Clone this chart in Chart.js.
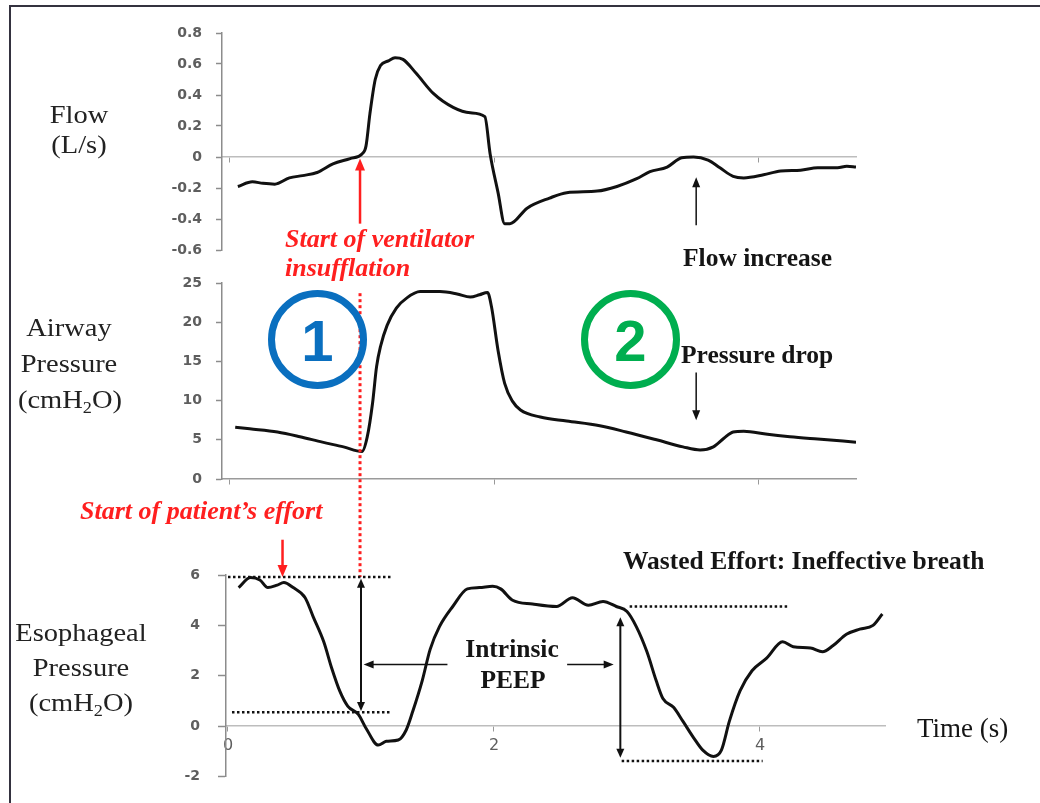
<!DOCTYPE html>
<html>
<head>
<meta charset="utf-8">
<script src="https://cdn.jsdelivr.net/npm/chart.js@4.4.1/dist/chart.umd.min.js"></script>
<style>
  body { margin: 0; background: #fff; width: 1040px; height: 803px; overflow: hidden; position: relative; font-family: "Liberation Serif", "Times New Roman", serif; }
  canvas { position: absolute; left: 0; top: 0; }
  .frame { position: absolute; left: 9px; top: 5px; width: 1100px; height: 900px; border-top: 2px solid #34323f; border-left: 2px solid #34323f; }
  .t { position: absolute; white-space: nowrap; line-height: 1; color: #151515; }
  .b { font-weight: bold; font-size: 25.5px; }
  .red { color: #ff1f1f; font-style: italic; font-weight: bold; font-size: 26px; }
  .ax { font-size: 25px; width: 160px; text-align: center; color: #222; transform: scaleX(1.14); }
  .ax sub { font-size: 16px; vertical-align: -5px; line-height: 0; }
  .circ { position: absolute; width: 99px; height: 99px; box-sizing: border-box; border: 7px solid; border-radius: 50%; text-align: center; font: bold 58px "Liberation Sans", Arial, sans-serif; line-height: 88px; }
</style>
</head>
<body>
<div class="frame"></div>
<canvas id="flow-chart" width="1040" height="803"></canvas>
<canvas id="airway-chart" width="1040" height="803"></canvas>
<canvas id="eso-chart" width="1040" height="803"></canvas>

<!-- axis titles -->
<div class="t ax" style="left:-1px; top:102px;">Flow</div>
<div class="t ax" style="left:-1px; top:132px;">(L/s)</div>
<div class="t ax" style="left:-11px; top:315px;">Airway</div>
<div class="t ax" style="left:-11px; top:351px;">Pressure</div>
<div class="t ax" style="left:-10px; top:387px;">(cmH<sub>2</sub>O)</div>
<div class="t ax" style="left:1px; top:620px;">Esophageal</div>
<div class="t ax" style="left:1px; top:655px;">Pressure</div>
<div class="t ax" style="left:1px; top:690px;">(cmH<sub>2</sub>O)</div>
<div class="t" style="left:917px; top:715px; font-size:27px;">Time (s)</div>

<!-- annotations -->
<div class="t red" style="left:285px; top:226px;">Start of ventilator</div>
<div class="t red" style="left:285px; top:255px;">insufflation</div>
<div class="t red" style="left:80px; top:498px;">Start of patient’s effort</div>
<div class="t b" style="left:683px; top:245px;">Flow increase</div>
<div class="t b" style="left:681px; top:342px;">Pressure drop</div>
<div class="t b" style="left:623px; top:548px;">Wasted Effort: Ineffective breath</div>
<div class="t b" style="left:412px; top:636px; width:200px; text-align:center;">Intrinsic</div>
<div class="t b" style="left:413px; top:667px; width:200px; text-align:center;">PEEP</div>
<div class="circ" style="left:268px; top:290px; border-color:#0a6fbf; color:#0a6fbf;">1</div>
<div class="circ" style="left:581px; top:290px; border-color:#00ae4f; color:#00ae4f;">2</div>

<script>
// traces (time in s)
let flowTime = [0.06, 0.17, 0.25, 0.34, 0.45, 0.55, 0.66, 0.78, 0.91, 1.00, 1.03, 1.06, 1.10, 1.14, 1.20, 1.25, 1.31, 1.41, 1.54, 1.69, 1.82, 1.93, 1.97, 2.03, 2.08, 2.12, 2.25, 2.42, 2.55, 2.78, 2.93, 3.08, 3.18, 3.31, 3.42, 3.51, 3.62, 3.71, 3.81, 3.89, 4.04, 4.17, 4.32, 4.45, 4.60, 4.67, 4.74];
let flowValues = [-0.19, -0.16, -0.17, -0.175, -0.135, -0.12, -0.10, -0.045, -0.01, 0.02, 0.07, 0.28, 0.50, 0.59, 0.62, 0.64, 0.63, 0.54, 0.41, 0.32, 0.285, 0.26, 0.02, -0.23, -0.43, -0.43, -0.33, -0.265, -0.23, -0.22, -0.19, -0.14, -0.095, -0.065, -0.005, 0.0, -0.02, -0.07, -0.125, -0.135, -0.115, -0.09, -0.085, -0.07, -0.07, -0.06, -0.065];

let airwayTime = [0.04, 0.15, 0.36, 0.53, 0.70, 0.86, 1.00, 1.04, 1.08, 1.11, 1.14, 1.19, 1.26, 1.34, 1.44, 1.59, 1.72, 1.82, 1.89, 1.95, 1.98, 2.03, 2.08, 2.14, 2.20, 2.35, 2.55, 2.80, 3.00, 3.23, 3.43, 3.56, 3.66, 3.74, 3.81, 3.89, 4.07, 4.24, 4.45, 4.74];
let airwayValues = [6.6, 6.4, 6.0, 5.4, 4.7, 4.1, 3.5, 5.4, 9.7, 14.3, 16.9, 19.6, 21.8, 23.1, 23.9, 23.9, 23.6, 23.2, 23.5, 23.8, 22.0, 16.4, 12.2, 9.9, 8.8, 7.9, 7.4, 6.8, 6.0, 5.0, 4.1, 3.7, 4.1, 5.2, 6.0, 6.1, 5.7, 5.4, 5.1, 4.7];

let esoTime = [0.08, 0.17, 0.24, 0.30, 0.37, 0.42, 0.49, 0.58, 0.64, 0.72, 0.78, 0.84, 0.90, 0.98, 1.04, 1.13, 1.19, 1.28, 1.34, 1.39, 1.46, 1.52, 1.59, 1.69, 1.80, 1.89, 1.99, 2.05, 2.14, 2.29, 2.47, 2.59, 2.71, 2.82, 2.92, 3.00, 3.07, 3.15, 3.22, 3.27, 3.35, 3.42, 3.50, 3.57, 3.65, 3.71, 3.77, 3.85, 3.94, 4.05, 4.17, 4.25, 4.38, 4.47, 4.55, 4.65, 4.75, 4.85, 4.92];
let esoValues = [5.5, 5.9, 5.8, 5.5, 5.6, 5.7, 5.5, 5.1, 4.35, 3.35, 2.3, 1.4, 0.8, 0.47, -0.1, -0.75, -0.6, -0.55, -0.15, 0.6, 1.8, 3.05, 3.95, 4.75, 5.45, 5.5, 5.55, 5.45, 5.0, 4.85, 4.75, 5.1, 4.8, 4.95, 4.75, 4.55, 3.95, 2.95, 1.8, 1.1, 0.75, 0.2, -0.45, -0.95, -1.2, -0.95, 0.2, 1.4, 2.2, 2.7, 3.35, 3.15, 3.1, 2.95, 3.2, 3.65, 3.85, 4.0, 4.45];

// tick labels
let flowTicks = [0.8, 0.6, 0.4, 0.2, 0, -0.2, -0.4, -0.6];
let airwayTicks = [25, 20, 15, 10, 5, 0];
let esoTicks = [6, 4, 2, 0, -2];
let timeTicks = [0, 2, 4];

const AXIS_W = 60;
let tickFont = { family: "DejaVu Sans", size: 14, weight: "bold" };

function points(xs, ys) {
  return xs.map(function (x, i) { return { x: x, y: ys[i] }; });
}

function yAxis(list, tickLen, pad) {
  return {
    min: Math.min.apply(null, list),
    max: Math.max.apply(null, list),
    afterFit: function (s) { s.width = AXIS_W; },
    afterBuildTicks: function (s) { s.ticks = list.map(function (v) { return { value: v }; }); },
    border: { color: "#8c8c8c", width: 1.5 },
    grid: { drawOnChartArea: false, tickLength: tickLen, tickColor: "#8c8c8c", tickWidth: 1.5 },
    ticks: { color: "#5e5e5e", font: tickFont, padding: pad, callback: function (v) { return String(v); } },
  };
}

function xAxis(min, max, lineColor, showLabels) {
  return {
    type: "linear",
    min: min,
    max: max,
    position: { y: 0 },
    afterBuildTicks: function (s) { s.ticks = timeTicks.map(function (v) { return { value: v }; }); },
    border: { color: lineColor, width: 1.5 },
    grid: { drawOnChartArea: false, tickLength: 5, tickColor: "#999" },
    ticks: { display: showLabels, color: "#5e5e5e", font: { family: "DejaVu Sans", size: 16 }, padding: 5, maxRotation: 0, callback: function (v) { return String(v); } },
  };
}

function trace(label, xs, ys) {
  return {
    label: label,
    data: points(xs, ys),
    borderColor: "#111",
    borderWidth: 3,
    pointRadius: 0,
    fill: false,
    cubicInterpolationMode: "monotone",
  };
}

function baseOptions(padding, xScale, yScale) {
  return {
    responsive: false,
    animation: false,
    devicePixelRatio: 1,
    layout: { padding: padding },
    plugins: { legend: { display: false }, tooltip: { enabled: false } },
    scales: { x: xScale, y: yScale },
  };
}

let flowChart = new Chart(document.getElementById("flow-chart"), {
  type: "line",
  data: { datasets: [trace("Flow (L/s)", flowTime, flowValues)] },
  options: baseOptions({ left: 222 - AXIS_W, top: 33, right: 1040 - 856, bottom: 803 - 250 },
    xAxis(-0.06, 4.74, "#bdbdbd", false), yAxis(flowTicks, 6, 14)),
});

let airwayChart = new Chart(document.getElementById("airway-chart"), {
  type: "line",
  data: { datasets: [trace("Airway Pressure (cmH2O)", airwayTime, airwayValues)] },
  options: baseOptions({ left: 222 - AXIS_W, top: 283, right: 1040 - 856, bottom: 803 - 479 },
    xAxis(-0.06, 4.74, "#9a9a9a", false), yAxis(airwayTicks, 6, 14)),
});

// drawing helpers for the annotation layer
function px(c, x) { return c.scales.x.getPixelForValue(x); }
function py(c, y) { return c.scales.y.getPixelForValue(y); }

function arrowHead(ctx, x1, y1, x2, y2, len, half) {
  let a = Math.atan2(y2 - y1, x2 - x1);
  ctx.beginPath();
  ctx.moveTo(x2, y2);
  ctx.lineTo(x2 - len * Math.cos(a) + half * Math.sin(a), y2 - len * Math.sin(a) - half * Math.cos(a));
  ctx.lineTo(x2 - len * Math.cos(a) - half * Math.sin(a), y2 - len * Math.sin(a) + half * Math.cos(a));
  ctx.closePath();
  ctx.fill();
}

function arrow(ctx, x1, y1, x2, y2, color, w, len, half, both) {
  let a = Math.atan2(y2 - y1, x2 - x1);
  ctx.save();
  ctx.strokeStyle = color;
  ctx.fillStyle = color;
  ctx.lineWidth = w;
  ctx.beginPath();
  ctx.moveTo(both ? x1 + (len - 1) * Math.cos(a) : x1, both ? y1 + (len - 1) * Math.sin(a) : y1);
  ctx.lineTo(x2 - (len - 1) * Math.cos(a), y2 - (len - 1) * Math.sin(a));
  ctx.stroke();
  arrowHead(ctx, x1, y1, x2, y2, len, half);
  if (both) arrowHead(ctx, x2, y2, x1, y1, len, half);
  ctx.restore();
}

function dotted(ctx, x1, y1, x2, y2, color, w, dash) {
  ctx.save();
  ctx.strokeStyle = color;
  ctx.lineWidth = w;
  ctx.setLineDash(dash);
  ctx.beginPath();
  ctx.moveTo(x1, y1);
  ctx.lineTo(x2, y2);
  ctx.stroke();
  ctx.restore();
}

let overlay = {
  id: "overlay",
  afterDraw: function (chart) {
    let ctx = chart.ctx;
    let e = chart, f = flowChart, a = airwayChart;

    // ventilator insufflation marker
    arrow(ctx, px(f, 0.985), py(f, -0.43), px(f, 0.985), py(f, -0.01), "#ff1f1f", 2.5, 12, 5, false);
    dotted(ctx, px(a, 0.985), py(a, 23.7), px(a, 0.985), py(e, 5.92), "#ff1f1f", 3, [3, 3]);

    // flow increase / pressure drop
    arrow(ctx, px(f, 3.53), py(f, -0.44), px(f, 3.53), py(f, -0.13), "#111", 1.5, 10, 4, false);
    arrow(ctx, px(a, 3.53), py(a, 13.6), px(a, 3.53), py(a, 7.5), "#111", 1.5, 10, 4, false);

    // patient's effort
    arrow(ctx, px(e, 0.41), py(e, 7.4), px(e, 0.41), py(e, 5.92), "#ff1f1f", 2.5, 12, 5, false);

    // esophageal reference lines
    dotted(ctx, px(e, 0.0), py(e, 5.92), px(e, 1.23), py(e, 5.92), "#111", 2.5, [2.5, 2.5]);
    dotted(ctx, px(e, 0.03), py(e, 0.55), px(e, 1.22), py(e, 0.55), "#111", 2.5, [2.5, 2.5]);
    dotted(ctx, px(e, 3.02), py(e, 4.75), px(e, 4.21), py(e, 4.75), "#111", 2.5, [2.5, 2.5]);
    dotted(ctx, px(e, 2.96), py(e, -1.38), px(e, 4.02), py(e, -1.38), "#111", 2.5, [2.5, 2.5]);

    // double arrows and intrinsic PEEP pointers
    arrow(ctx, px(e, 1.0), py(e, 5.85), px(e, 1.0), py(e, 0.6), "#111", 2, 9, 4, true);
    arrow(ctx, px(e, 2.95), py(e, 4.32), px(e, 2.95), py(e, -1.25), "#111", 2, 9, 4, true);
    arrow(ctx, px(e, 1.65), py(e, 2.45), px(e, 1.02), py(e, 2.45), "#111", 1.5, 10, 4, false);
    arrow(ctx, px(e, 2.55), py(e, 2.45), px(e, 2.9), py(e, 2.45), "#111", 1.5, 10, 4, false);
  },
};

let esoChart = new Chart(document.getElementById("eso-chart"), {
  type: "line",
  data: { datasets: [trace("Esophageal Pressure (cmH2O)", esoTime, esoValues)] },
  options: baseOptions({ left: 226 - AXIS_W, top: 575, right: 1040 - 885, bottom: 803 - 781 },
    xAxis(-0.015, 4.94, "#bdbdbd", true), yAxis(esoTicks, 8, 18)),
  plugins: [overlay],
});
</script>
</body>
</html>
